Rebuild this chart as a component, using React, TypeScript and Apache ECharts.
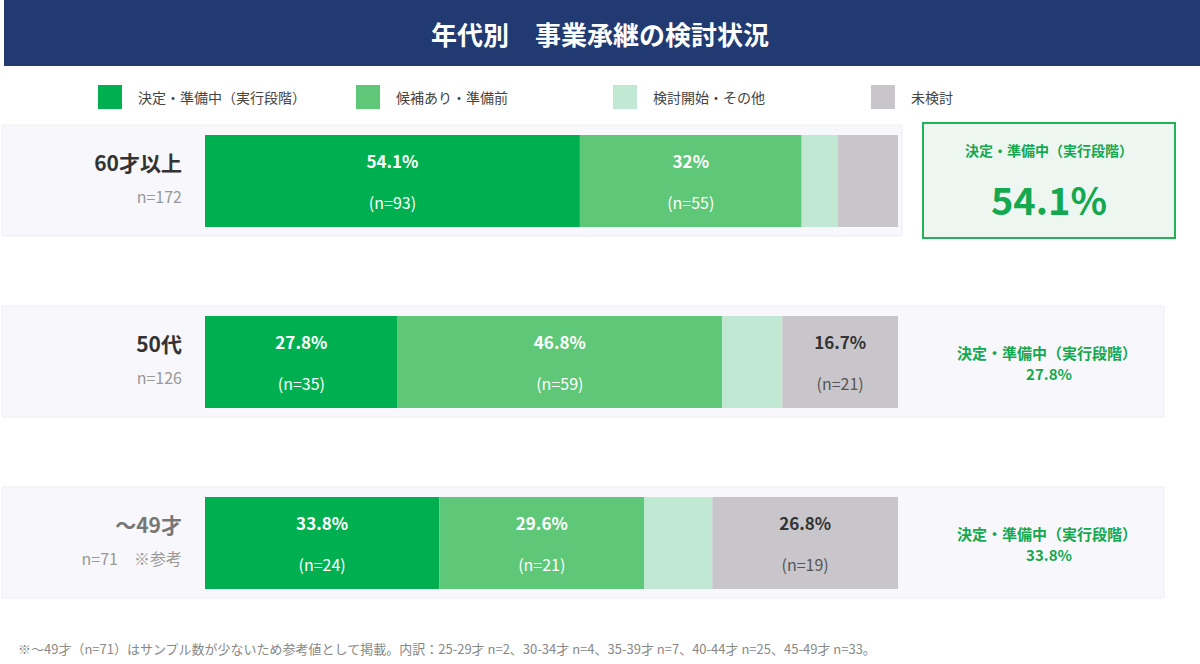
import React, { useEffect, useRef } from "react";
import * as echarts from "echarts";

const title = "年代別　事業承継の検討状況";
const categories = ["60才以上", "50代", "～49才"];
const sampleLabels = ["n=172", "n=126", "n=71　※参考"];
const seriesNames = ["決定・準備中（実行段階）", "候補あり・準備前", "検討開始・その他", "未検討"];
const decided = [54.1, 27.8, 33.8];
const candidate = [32, 46.8, 29.6];
const considering = [5.2, 8.7, 9.8];
const notConsidered = [8.7, 16.7, 26.8];
const decidedN = [93, 35, 24];
const candidateN = [55, 59, 21];
const consideringN = [9, 11, 7];
const notConsideredN = [15, 21, 19];
const showLabels = [
  [true, true, true],
  [true, true, true],
  [false, false, false],
  [false, true, true],
];
const colors = ["#00b050", "#5fc778", "#c0e8d3", "#c8c6ca"];
const labelColors = ["#ffffff", "#ffffff", "#333333", "#333333"];
const highlightRow = 0;
const footnote =
  "※～49才（n=71）はサンプル数が少ないため参考値として掲載。内訳：25-29才 n=2、30-34才 n=4、35-39才 n=7、40-44才 n=25、45-49才 n=33。";

const FONT = "'Noto Sans CJK JP', 'Noto Sans', sans-serif";

export default function App() {
  const ref = useRef<HTMLDivElement>(null);
  useEffect(() => {
    if (!ref.current) return;
    const chart = echarts.init(ref.current, null, { renderer: "svg" });
    const values = [decided, candidate, considering, notConsidered];
    const counts = [decidedN, candidateN, consideringN, notConsideredN];
    const series = seriesNames.map((name, s) => ({
      name,
      type: "bar",
      stack: "total",
      barWidth: 92,
      itemStyle: { color: colors[s] },
      data: values[s].map((v, r) => ({
        value: v,
        n: counts[s][r],
        label: { show: showLabels[s][r] },
      })),
      label: {
        position: "inside",
        formatter: (p: any) => `{a|${p.value}%}\n{b|(n=${p.data.n})}`,
        rich: {
          a: { fontSize: 17, fontWeight: "bold", color: labelColors[s], lineHeight: 41, fontFamily: FONT },
          b: { fontSize: 16, color: s === 3 ? "#555" : "#fff", lineHeight: 41, fontFamily: FONT },
        },
      },
      z: 5,
    }));

    const legendX = [93, 351, 608, 866];
    const legends = seriesNames.map((name, i) => ({
      data: [name],
      left: legendX[i],
      top: 80,
      itemWidth: 24,
      itemHeight: 24,
      icon: "rect",
      selectedMode: false,
      textStyle: { fontSize: 14, color: "#444", fontFamily: FONT, padding: [0, 0, 0, 11] },
    }));

    chart.setOption({
      animation: false,
      textStyle: { fontFamily: FONT },
      legend: legends,
      grid: { left: 205, width: 693, top: 90.5, height: 543 },
      xAxis: { type: "value", min: 0, max: 100, show: false },
      yAxis: {
        type: "category",
        inverse: true,
        data: categories,
        axisLine: { show: false },
        axisTick: { show: false },
        axisLabel: {
          margin: 23,
          padding: [0, 0, 4, 0],
          formatter: (v: string, i: number) =>
            `{${i === 2 ? "tg" : "t"}|${v}}\n{n|${sampleLabels[i]}}`,
          rich: {
            t: { fontSize: 21, fontWeight: "bold", color: "#333", lineHeight: 34, align: "right", fontFamily: FONT },
            tg: { fontSize: 21, fontWeight: "bold", color: "#777", lineHeight: 34, align: "right", fontFamily: FONT },
            n: { fontSize: 16, color: "#999", lineHeight: 34, align: "right", fontFamily: FONT },
          },
        },
      },
      series,
    });

    const graphics: any[] = [
      { type: "rect", shape: { x: 4, y: 0, width: 1196, height: 66 }, style: { fill: "#213a72" }, z: -10 },
      {
        type: "text",
        x: 600,
        y: 33,
        style: {
          text: title,
          fill: "#fff",
          font: `bold 26px ${FONT}`,
          textAlign: "center",
          textVerticalAlign: "middle",
        },
      },
      {
        type: "text",
        x: 18,
        y: 648,
        style: {
          text: footnote,
          fill: "#888",
          font: `13px ${FONT}`,
          textVerticalAlign: "middle",
        },
      },
    ];
    categories.forEach((c, r) => {
      const cy = chart.convertToPixel({ yAxisIndex: 0 }, c) as number;
      const bgRight = r === highlightRow ? 902 : 1164;
      graphics.push({
        type: "rect",
        shape: { x: 2, y: cy - 56, width: bgRight - 2, height: 111 },
        style: { fill: "#f8f7fb", stroke: "#efeef3", lineWidth: 1 },
        z: -5,
      });
      if (r === highlightRow) {
        graphics.push({
          type: "rect",
          shape: { x: 923, y: cy - 58, width: 252, height: 115 },
          style: { fill: "#eef6f2", stroke: "#22b35a", lineWidth: 2 },
          z: 1,
        });
        graphics.push({
          type: "text",
          x: 1049,
          y: cy - 31,
          style: {
            text: seriesNames[0],
            fill: "#14a84f",
            font: `bold 14px ${FONT}`,
            textAlign: "center",
            textVerticalAlign: "middle",
          },
          z: 2,
        });
        graphics.push({
          type: "text",
          x: 1049,
          y: cy + 17,
          style: {
            text: `${decided[r]}%`,
            fill: "#14a84f",
            font: `bold 38px ${FONT}`,
            textAlign: "center",
            textVerticalAlign: "middle",
          },
          z: 2,
        });
      } else {
        graphics.push({
          type: "text",
          x: 1047,
          y: cy - 10,
          style: {
            text: seriesNames[0],
            fill: "#14a84f",
            font: `bold 15px ${FONT}`,
            textAlign: "center",
            textVerticalAlign: "middle",
          },
          z: 2,
        });
        graphics.push({
          type: "text",
          x: 1049,
          y: cy + 11,
          style: {
            text: `${decided[r]}%`,
            fill: "#14a84f",
            font: `bold 15px ${FONT}`,
            textAlign: "center",
            textVerticalAlign: "middle",
          },
          z: 2,
        });
      }
    });
    chart.setOption({ graphic: graphics });

    return () => chart.dispose();
  }, []);
  return (
    <div
      ref={ref}
      style={{ position: "fixed", left: 0, top: 0, width: 1200, height: 664, background: "#fff" }}
    />
  );
}
